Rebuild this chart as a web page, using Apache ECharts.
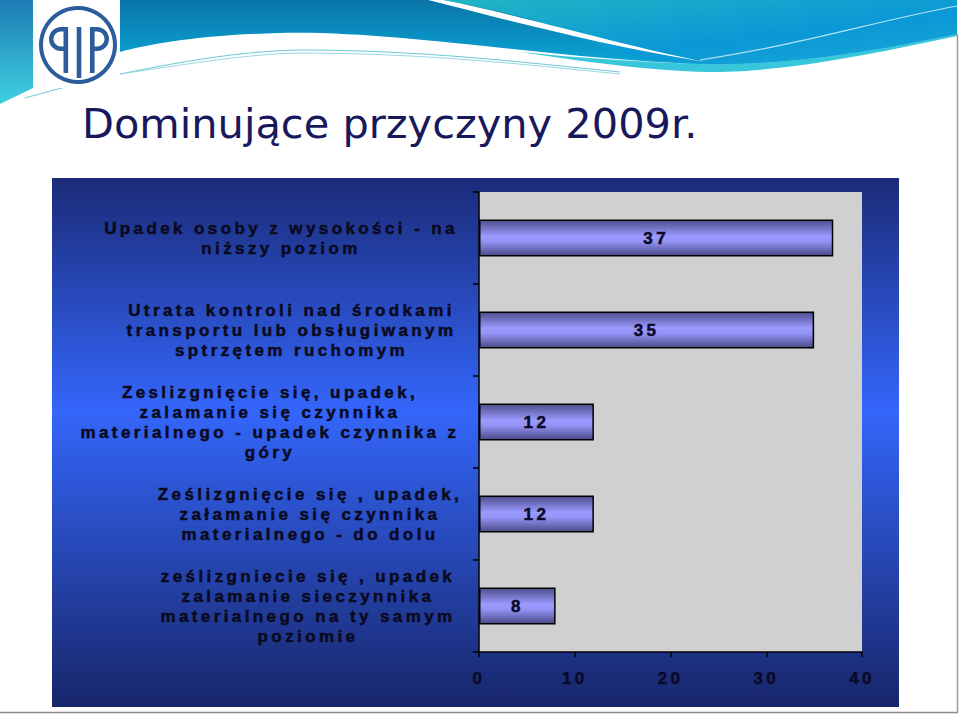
<!DOCTYPE html>
<html>
<head>
<meta charset="utf-8">
<script src="https://cdn.jsdelivr.net/npm/echarts@6/dist/echarts.min.js"></script>
<style>
  html, body { margin: 0; padding: 0; background: #ffffff; }
  #wrap { position: relative; width: 960px; height: 716px; overflow: hidden; }
  #chart { position: absolute; left: 0; top: 0; width: 960px; height: 716px; letter-spacing: 3.4px; font-family: Arial, sans-serif; }
  #chart svg text { font-weight: 700 !important; }
  #title { position: absolute; left: 82px; top: 103px; font-family: "DejaVu Sans", sans-serif;
           font-size: 41.5px; line-height: 41px; color: #18185c; letter-spacing: 0; white-space: nowrap; }
</style>
</head>
<body>
<div id="wrap">
  <div id="chart"></div>
  <div id="title">Dominujące przyczyny 2009r.</div>
</div>
<script>
// ---- data ----
const categories = [
  "Upadek osoby z wysokości - na\nniższy poziom",
  "Utrata kontroli nad środkami\ntransportu lub obsługiwanym\nsptrzętem ruchomym",
  "Zeslizgnięcie się, upadek,\nzalamanie się czynnika\nmaterialnego - upadek czynnika z\ngóry",
  "Ześlizgnięcie się , upadek,\nzałamanie się czynnika\nmaterialnego - do dolu",
  "ześlizgniecie się , upadek\nzalamanie sieczynnika\nmaterialnego na ty samym\npoziomie"
];
const values = [37, 35, 12, 12, 8];
const xMin = 0, xMax = 40, xStep = 10;

// ---- styling (not data) ----
const labelShift = [22, 43, 0, 80, 76];

const decoPaths = {
  decoBanner: 'M120,0 H957 V34 C880,50 790,66 700,64 C560,60 400,30 280,33 C200,35 150,44 120,52 Z',
  decoCyan: 'M440,0 H957 V34 C880,50 790,66 700,64 C650,62 620,55 600,45 C560,25 500,10 440,0 Z',
  decoSwoosh: 'M428,0 C500,18 600,45 705,62 C600,40 520,15 443,0 Z',
  decoThin: 'M700,60 C800,45 880,20 957,6',
  decoBand: 'M520,52 C600,64 660,72 720,72 C800,70 880,52 957,36 V34 C880,50 790,66 700,64 C640,62 580,58 520,52 Z',
  decoLine1: 'M25,98 C60,88 100,78 130,72 C200,58 250,51 300,50 C420,50 520,62 620,72',
  decoLine2: 'M120,74 C200,62 250,54 300,53 C420,53 520,64 620,74',
  decoBowlL: 'M66,29.2 L61,29.2 A9.8,9.8 0 0 0 61,48.8 L66,48.8',
  decoBowlR: 'M92,29.2 L97,29.2 A9.8,9.8 0 0 1 97,48.8 L92,48.8'
};
Object.keys(decoPaths).forEach(function (k) {
  echarts.graphic.registerShape(k, echarts.graphic.extendPath(decoPaths[k]));
});

const chart = echarts.init(document.getElementById('chart'), null, { renderer: 'svg' });

function lg(x2, y2, stops) {
  return { type: 'linear', x: 0, y: 0, x2: x2, y2: y2, colorStops: stops };
}

const barGradient = lg(0, 1, [
  { offset: 0, color: '#4e4e8e' },
  { offset: 0.45, color: '#9a9aff' },
  { offset: 0.6, color: '#9393f6' },
  { offset: 1, color: '#4a4a88' }
]);

const labelFont = { fontFamily: 'Arial', fontSize: 17, fontWeight: 'bold' };
const inkCat = '#0a0a1e', inkVal = '#0a0a28';

const option = {
  animation: false,
  backgroundColor: '#ffffff',
  textStyle: { fontFamily: 'Arial' },
  graphic: [
    { type: 'polygon', z: -20, shape: { points: [[0,0],[33,0],[33,88],[0,104]] },
      style: { fill: lg(0,1,[{offset:0,color:'#1c7cb4'},{offset:1,color:'#3fd0e0'}]) } },
    { type: 'decoBand', z: -21, style: { fill: '#38c6da' } },
    { type: 'decoBanner', z: -20,
      style: { fill: lg(0,1,[{offset:0,color:'#0a74a8'},{offset:1,color:'#0aa6d6'}]) } },
    { type: 'decoCyan', z: -19,
      style: { fill: lg(1,1,[{offset:0,color:'#22b4c4'},{offset:0.6,color:'#0a98d6'},{offset:1,color:'#1aa8d8'}]) } },
    { type: 'decoSwoosh', z: -18, style: { fill: '#ffffff' } },
    { type: 'decoThin', z: -18, style: { fill: 'none', stroke: 'rgba(255,255,255,0.7)', lineWidth: 1.2 } },
    { type: 'decoLine1', z: -18, style: { fill: 'none', stroke: '#6cc8d6', lineWidth: 1 } },
    { type: 'decoLine2', z: -18, style: { fill: 'none', stroke: '#9ad8e2', lineWidth: 1 } },
    { type: 'rect', z: -17, shape: { x: 35, y: 0, width: 85, height: 88 }, style: { fill: '#ffffff' } },
    { type: 'circle', z: -16, shape: { cx: 78, cy: 45, r: 37 }, style: { fill: 'none', stroke: '#2d5c9c', lineWidth: 4 } },
    { type: 'rect', z: -16, shape: { x: 63.5, y: 27, width: 4.6, height: 46 }, style: { fill: '#2d5c9c' } },
    { type: 'rect', z: -16, shape: { x: 76.7, y: 27, width: 4.6, height: 51 }, style: { fill: '#2d5c9c' } },
    { type: 'rect', z: -16, shape: { x: 90, y: 27, width: 4.6, height: 46 }, style: { fill: '#2d5c9c' } },
    { type: 'decoBowlL', z: -16, style: { fill: 'none', stroke: '#2d5c9c', lineWidth: 4.4 } },
    { type: 'decoBowlR', z: -16, style: { fill: 'none', stroke: '#2d5c9c', lineWidth: 4.4 } },
    { type: 'line', z: -16, shape: { x1: 957.5, y1: 34, x2: 957.5, y2: 712 }, style: { stroke: '#9a9a9a', lineWidth: 1.5 } },
    { type: 'line', z: -16, shape: { x1: 0, y1: 712.5, x2: 958, y2: 712.5 }, style: { stroke: '#8a8a8a', lineWidth: 1.5 } },
    { type: 'rect', z: -10, shape: { x: 52, y: 178, width: 847, height: 529 },
      style: { fill: lg(0,1,[{offset:0,color:'#1b2b78'},{offset:0.44,color:'#3466fa'},{offset:1,color:'#18266a'}]) } }
  ],
  grid: {
    left: 479, right: 98, top: 192, bottom: 64,
    show: true, backgroundColor: '#d0d0d0', borderWidth: 0,
    outerBoundsMode: 'none', containLabel: false
  },
  xAxis: {
    type: 'value', min: xMin, max: xMax, interval: xStep,
    axisLine: { show: true, lineStyle: { color: '#000000', width: 1.5 } },
    axisTick: { show: true, length: 5, lineStyle: { color: '#000000', width: 1.5 } },
    splitLine: { show: false },
    axisLabel: Object.assign({ color: inkVal, textBorderColor: inkVal, textBorderWidth: 0.5,
                               margin: 18, showMinLabel: true, showMaxLabel: true }, labelFont)
  },
  yAxis: {
    type: 'category', inverse: true,
    data: categories.map((c, i) => ({
      value: c,
      textStyle: Object.assign({ align: 'center', verticalAlign: 'middle', color: inkCat, lineHeight: 20,
                                 textBorderColor: inkCat, textBorderWidth: 0.5,
                                 padding: [0, 0, 0, labelShift[i]] }, labelFont)
    })),
    axisLine: { show: true, lineStyle: { color: '#000000', width: 1.5 } },
    axisTick: { show: true, length: 6, lineStyle: { color: '#000000', width: 1.5 } },
    splitLine: { show: false },
    axisLabel: Object.assign({ interval: 0, color: inkCat, lineHeight: 20, align: 'center', margin: 209 }, labelFont)
  },
  series: [{
    type: 'bar',
    data: values,
    barWidth: '40%',
    itemStyle: { color: barGradient, borderColor: '#000000', borderWidth: 1.5 },
    label: Object.assign({ show: true, position: 'inside', color: inkVal,
                           textBorderColor: inkVal, textBorderWidth: 0.5 }, labelFont)
  }]
};
chart.setOption(option);
</script>
</body>
</html>
